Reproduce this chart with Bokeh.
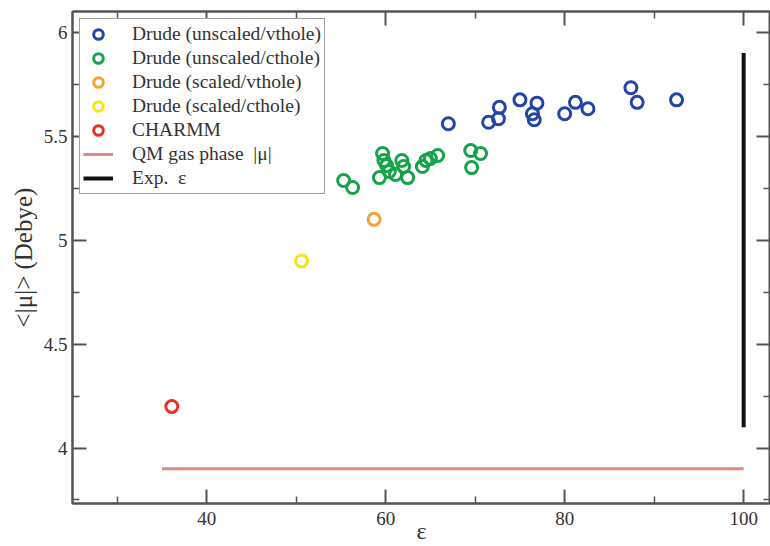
from bokeh.plotting import figure
from bokeh.models import LinearAxis, Range1d, FixedTicker, Legend, LegendItem
from bokeh.embed import file_html
from bokeh.resources import INLINE

# Data
unscaled_vthole_eps = [67.0, 71.5, 72.6, 72.7, 75.0, 76.9, 76.4, 76.6, 80.0, 81.2, 82.6, 87.4, 88.1, 92.5]
unscaled_vthole_mu = [5.56, 5.567, 5.584, 5.639, 5.675, 5.659, 5.608, 5.579, 5.608, 5.663, 5.632, 5.733, 5.663, 5.675]

unscaled_cthole_eps = [55.3, 56.3, 59.3, 59.65, 59.8, 60.1, 60.4, 61.1, 61.8, 62.0, 62.45, 64.1, 64.5, 65.0, 65.8, 69.5, 69.6, 70.6]
unscaled_cthole_mu = [5.287, 5.253, 5.301, 5.417, 5.383, 5.359, 5.330, 5.316, 5.383, 5.354, 5.301, 5.354, 5.383, 5.393, 5.407, 5.431, 5.349, 5.417]

scaled_vthole_eps = [58.7]
scaled_vthole_mu = [5.10]

scaled_cthole_eps = [50.6]
scaled_cthole_mu = [4.90]

charmm_eps = [36.1]
charmm_mu = [4.20]

qm_eps = [35, 100]
qm_mu = [3.9, 3.9]

exp_eps = [100, 100]
exp_mu = [4.1, 5.9]

x_major = [40, 60, 80, 100]
x_minor = [30, 50, 70, 90]
y_major = [4, 4.5, 5, 5.5, 6]
y_minor = [3.75, 4.25, 4.75, 5.25, 5.75]

FONT = "Liberation Serif"
AX = "#555555"

p = figure(width=770, height=546,
           x_range=Range1d(25.0, 103.0), y_range=Range1d(3.733, 6.1),
           output_backend="svg", toolbar_location=None,
           min_border_left=72, min_border_right=0, min_border_top=11, min_border_bottom=43)
p.xgrid.visible = False
p.ygrid.visible = False
p.outline_line_color = AX
p.outline_line_width = 2


def style_axis(ax, ticks, minor, labels=True):
    ax.ticker = FixedTicker(ticks=ticks, minor_ticks=minor)
    ax.axis_line_color = AX
    ax.axis_line_width = 2
    ax.major_tick_line_color = AX
    ax.minor_tick_line_color = AX
    ax.major_tick_line_width = 2
    ax.minor_tick_line_width = 1.5
    ax.major_tick_in = 14
    ax.major_tick_out = 0
    ax.minor_tick_in = 7
    ax.minor_tick_out = 0
    ax.major_label_text_font = FONT
    if labels:
        ax.major_label_text_color = "#333333"
        ax.major_label_text_font_size = "19px"
    else:
        ax.major_label_text_color = None
        ax.major_label_text_font_size = "1px"
        ax.major_label_standoff = 0


style_axis(p.xaxis[0], x_major, x_minor)
style_axis(p.yaxis[0], y_major, y_minor)
p.xaxis[0].major_label_standoff = 8
p.yaxis[0].major_label_standoff = 5
p.xaxis[0].axis_label = "ε"
p.xaxis[0].axis_label_text_font = FONT
p.xaxis[0].axis_label_text_font_size = "24px"
p.xaxis[0].axis_label_text_font_style = "normal"
p.xaxis[0].axis_label_text_color = "#333333"
p.xaxis[0].axis_label_standoff = -10
p.yaxis[0].axis_label = "<|μ|> (Debye)"
p.yaxis[0].axis_label_text_font = FONT
p.yaxis[0].axis_label_text_font_size = "25px"
p.yaxis[0].axis_label_text_font_style = "normal"
p.yaxis[0].axis_label_text_color = "#333333"
p.yaxis[0].axis_label_standoff = 4

top = LinearAxis()
style_axis(top, x_major, x_minor, labels=False)
p.add_layout(top, "above")
right = LinearAxis()
style_axis(right, y_major, y_minor, labels=False)
p.add_layout(right, "right")

SZ = 12
LW = 3
r1 = p.scatter(unscaled_vthole_eps, unscaled_vthole_mu, marker="circle", size=SZ,
               fill_color=None, line_color="#2345a5", line_width=LW)
r2 = p.scatter(unscaled_cthole_eps, unscaled_cthole_mu, marker="circle", size=SZ,
               fill_color=None, line_color="#17a34a", line_width=LW)
r3 = p.scatter(scaled_vthole_eps, scaled_vthole_mu, marker="circle", size=SZ,
               fill_color=None, line_color="#f7a234", line_width=LW)
r4 = p.scatter(scaled_cthole_eps, scaled_cthole_mu, marker="circle", size=SZ,
               fill_color=None, line_color="#f2e51c", line_width=LW)
r5 = p.scatter(charmm_eps, charmm_mu, marker="circle", size=SZ,
               fill_color=None, line_color="#e8302a", line_width=LW)
r6 = p.line(qm_eps, qm_mu, line_color="#e08888", line_width=3)
r7 = p.line(exp_eps, exp_mu, line_color="#111111", line_width=4)

legend = Legend(items=[
    LegendItem(label="Drude (unscaled/vthole)", renderers=[r1]),
    LegendItem(label="Drude (unscaled/cthole)", renderers=[r2]),
    LegendItem(label="Drude (scaled/vthole)", renderers=[r3]),
    LegendItem(label="Drude (scaled/cthole)", renderers=[r4]),
    LegendItem(label="CHARMM", renderers=[r5]),
    LegendItem(label="QM gas phase  |μ|", renderers=[r6]),
    LegendItem(label="Exp.  ε", renderers=[r7]),
], location="top_left")
legend.margin = 7
legend.label_text_font = FONT
legend.label_text_font_size = "19.5px"
legend.label_text_color = "#333333"
legend.glyph_width = 30
legend.glyph_height = 24
legend.label_height = 20
legend.label_standoff = 19
legend.spacing = 0
legend.padding = 3
legend.border_line_color = "#444444"
legend.border_line_width = 1.5
legend.background_fill_alpha = 1
p.add_layout(legend, "center")

open("out.html", "w").write(file_html(p, INLINE))
